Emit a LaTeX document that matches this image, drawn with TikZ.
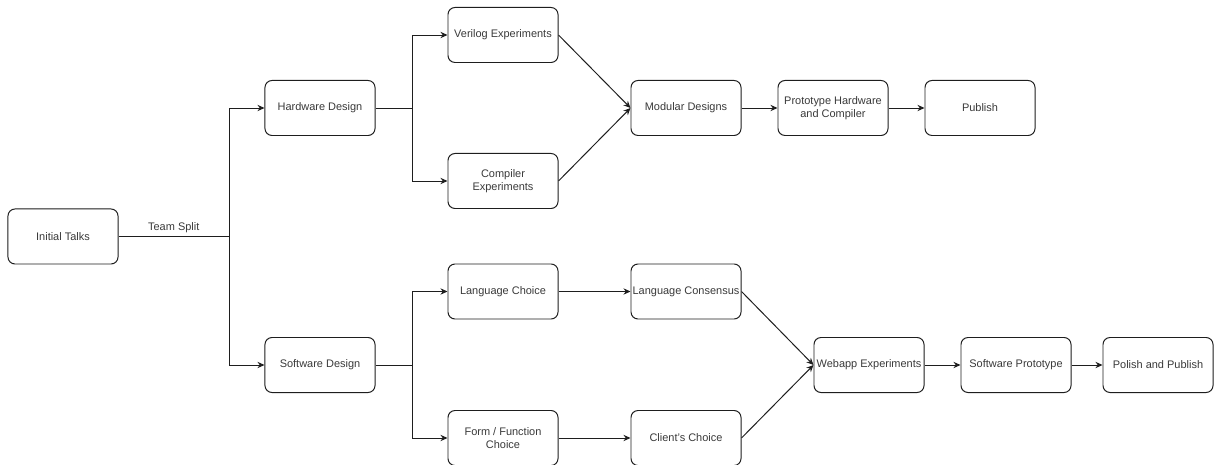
\documentclass[tikz,border=0pt]{standalone}
\usepackage{fontspec}
\setmainfont{Liberation Sans}
\usepackage{xcolor}
\usepackage{tikz}
\usetikzlibrary{
	arrows.meta,
	calc,
	positioning
}
\definecolor{boxline}{HTML}{1E1E1E}
\definecolor{boxtext}{HTML}{3A3A3A}

\tikzset{
	task/.style={draw=boxline, line width=0.7pt, rounded corners=5pt, fill=white,
		minimum width=2.75cm, minimum height=1.375cm, inner sep=1pt,
		align=center, text=boxtext, font=\fontsize{7.8}{9.2}\selectfont},
	link/.style={draw=boxline, line width=0.7pt},
	arr/.style={link, -{Stealth[length=5pt, width=4.5pt]}}
}

\begin{document}
\begin{tikzpicture}[x=0.025cm, y=-0.025cm]
		\useasboundingbox (0,0) rectangle (1215,465);
		
		% start and team split
		\node[task] (talks) at (63,236.5) {Initial Talks};
		\coordinate (split) at (229,236.5);
		\node[task] (hw) at (320,108) {Hardware Design};
		\node[task] (sw) at (320,365) {Software Design};
		
		% hardware branch
		\coordinate (hwsplit) at (412,108);
		\node[task] (verilog) at (503,35) {Verilog Experiments};
		\node[task] (compiler) at (503,181) {Compiler\\Experiments};
		\node[task] (modular) at (686,108) {Modular Designs};
		\node[task] (proto) at (833,108) {Prototype Hardware\\and Compiler};
		\node[task] (publish) at (980,108) {Publish};
		
		% software branch
		\coordinate (swsplit) at (412,365);
		\node[task] (lang) at (503,291.5) {Language Choice};
		\node[task] (form) at (503,438) {Form / Function\\Choice};
		\node[task] (consensus) at (686,291.5) {Language Consensus};
		\node[task] (client) at (686,438) {Client's Choice};
		\node[task] (webapp) at (869,365) {Webapp Experiments};
		\node[task] (swproto) at (1016,365) {Software Prototype};
		\node[task] (polish) at (1158,365) {Polish and Publish};
		
		% connectors
		\draw[link] (talks) -- node[above, text=boxtext, font=\fontsize{7.8}{9.2}\selectfont, inner sep=2pt]{Team Split} (split);
		\draw[arr] (split) |- (hw);
		\draw[arr] (split) |- (sw);
		
		\draw[link] (hw) -- (hwsplit);
		\draw[arr] (hwsplit) |- (verilog);
		\draw[arr] (hwsplit) |- (compiler);
		\draw[arr] (verilog.east) -- (modular.west);
		\draw[arr] (compiler.east) -- (modular.west);
		\draw[arr] (modular) -- (proto);
		\draw[arr] (proto) -- (publish);
		
		\draw[link] (sw) -- (swsplit);
		\draw[arr] (swsplit) |- (lang);
		\draw[arr] (swsplit) |- (form);
		\draw[arr] (lang) -- (consensus);
		\draw[arr] (form) -- (client);
		\draw[arr] (consensus.east) -- (webapp.west);
		\draw[arr] (client.east) -- (webapp.west);
		\draw[arr] (webapp) -- (swproto);
		\draw[arr] (swproto) -- (polish);
	\end{tikzpicture}
\end{document}
